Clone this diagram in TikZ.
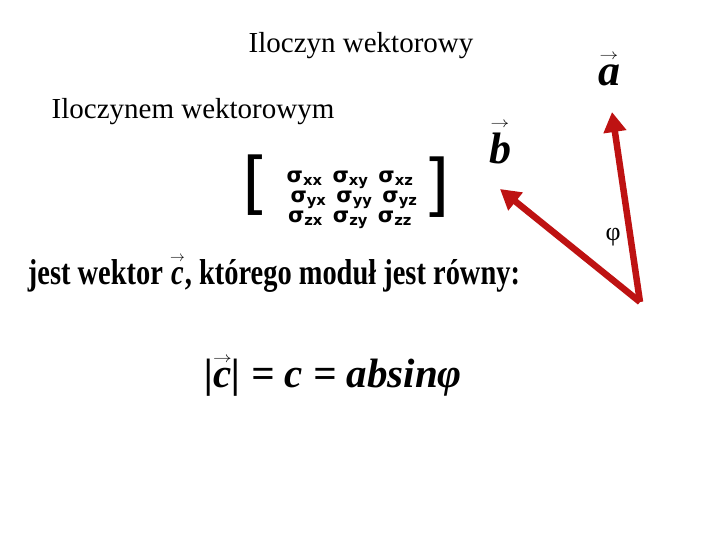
\documentclass[tikz,border=0pt]{standalone}
\usepackage{fontspec}
\setmainfont{Liberation Serif}
\newfontfamily\dv{DejaVu Sans}
\usetikzlibrary{arrows.meta}
\definecolor{vred}{RGB}{190,18,18}
\newcommand\myvec[1]{\shortstack[c]{\scalebox{0.75}[0.6]{\upshape\mdseries$\rightarrow$}\\[3pt]#1}}
\newcommand\sg[1]{σ\textsubscript{#1}}
\begin{document}
\begin{tikzpicture}[x=1pt,y=-1pt,
  vec/.style={draw=vred,line width=6.5pt,-{Triangle[length=20pt,width=22pt]},vred},
  txt/.style={inner sep=0pt,anchor=center}]
\useasboundingbox (0,0) rectangle (720,540);
\node[txt] (t) at (361,46) {\fontsize{29}{32}\selectfont Iloczyn wektorowy};
\node[txt] (s) at (193,112) {\fontsize{29}{32}\selectfont Iloczynem wektorowym};
\node[txt] (m) at (346,192) {\dv\bfseries
  \raisebox{-0.25em}{\fontsize{68}{68}\selectfont\mdseries[}\hspace{14pt}%
  \fontsize{21}{22}\selectfont
  \begin{tabular}{@{}c@{}}\sg{xx}\hspace{10pt}\sg{xy}\hspace{10pt}\sg{xz}\\[-2pt]
  \hspace{8pt}\sg{yx}\hspace{10pt}\sg{yy}\hspace{10pt}\sg{yz}\\[-2pt]
  \sg{zx}\hspace{10pt}\sg{zy}\hspace{10pt}\sg{zz}\end{tabular}\hspace{6pt}%
  \raisebox{-0.25em}{\fontsize{68}{68}\selectfont\mdseries]}};
\node[txt] (j) at (274,274) {\scalebox{0.79}[1]{\fontsize{36}{40}\selectfont\bfseries jest wektor \myvec{\itshape c}, którego moduł jest równy:}};
\node[txt] (f) at (333,377) {\fontsize{41}{44}\selectfont\bfseries\itshape |\myvec{c}| = c = absinφ};
\coordinate (o) at (640,302);
\coordinate (at) at (612,112);
\coordinate (bt) at (500,189);
\draw[vec] (o) -- (at);
\draw[vec] (o) -- (bt);
\node[txt] (la) at (609,70) {\fontsize{44}{46}\selectfont\bfseries\itshape \myvec{a}};
\node[txt] (lb) at (500,143) {\fontsize{44}{46}\selectfont\bfseries\itshape \myvec{b}};
\node[txt] (phi) at (613,237) {\fontsize{26}{28}\selectfont φ};
\end{tikzpicture}
\end{document}
